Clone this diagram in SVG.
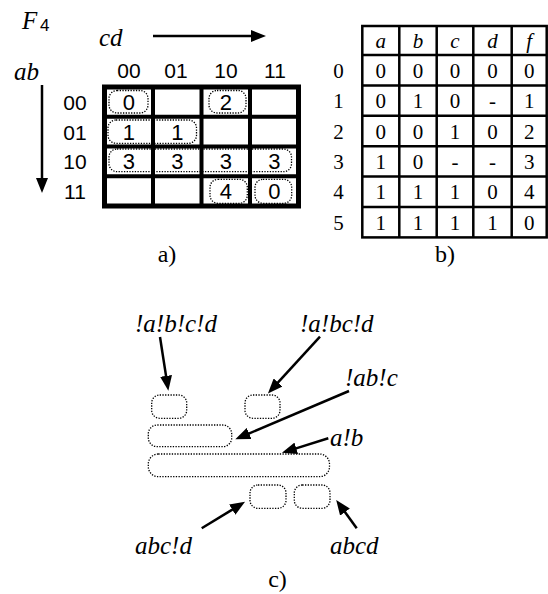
<svg xmlns="http://www.w3.org/2000/svg" width="548" height="594" viewBox="0 0 548 594">
<style>
.it{font-family:"Liberation Serif","Times New Roman",serif;font-style:italic;font-size:25px;fill:#000}
.rm{font-family:"Liberation Serif","Times New Roman",serif;font-size:21px;fill:#000;text-anchor:middle}
.cap{font-family:"Liberation Serif","Times New Roman",serif;font-size:24px;fill:#000;text-anchor:middle}
.km{font-family:"Liberation Sans",Arial,sans-serif;font-size:22px;fill:#000;text-anchor:middle}
.hd{font-family:"Liberation Sans",Arial,sans-serif;font-size:21px;fill:#000;text-anchor:middle}
.dot{fill:none;stroke:#000;stroke-width:1.3;stroke-dasharray:1.3 1.4}
.grid{stroke:#000;stroke-width:4;fill:none}
.tl{stroke:#000;stroke-width:2.5;fill:none}
.arr{stroke:#000;stroke-width:2.5;fill:none;marker-end:url(#ah)}
</style>
<defs>
<marker id="ah" viewBox="0 0 15 12" refX="1" refY="6" markerWidth="15" markerHeight="12" markerUnits="userSpaceOnUse" orient="auto">
<path d="M0,0 L15,6 L0,12 Z" fill="#000"/>
</marker>
</defs>
<rect width="548" height="594" fill="#fff"/>

<g id="kmap">
<text class="it" x="22" y="29">F</text><text x="40" y="31" style="font-family:'Liberation Sans',Arial,sans-serif;font-size:17px">4</text>
<text class="it" x="99" y="45.5">cd</text>
<text class="it" x="14" y="80">ab</text>
<text class="hd" x="129" y="78">00</text>
<text class="hd" x="176" y="78">01</text>
<text class="hd" x="226" y="78">10</text>
<text class="hd" x="275" y="78">11</text>
<text class="hd" x="75" y="110">00</text>
<text class="hd" x="75" y="139.5">01</text>
<text class="hd" x="75" y="169">10</text>
<text class="hd" x="75" y="199">11</text>
<g id="loops">
<rect class="dot" x="109" y="90.5" width="39" height="22.5" rx="8"/>
<rect class="dot" x="209" y="90.5" width="37" height="22.5" rx="8"/>
<rect class="dot" x="108" y="120" width="88.5" height="23.3" rx="8"/>
<rect class="dot" x="109" y="149" width="182.5" height="22.7" rx="8"/>
<rect class="dot" x="210" y="179.3" width="37.3" height="24" rx="8"/>
<rect class="dot" x="255" y="179.3" width="36.7" height="24" rx="8"/>
</g>
<g id="cells">
<text class="km" x="128.75" y="110">0</text>
<text class="km" x="225.75" y="110">2</text>
<text class="km" x="128.75" y="139.6">1</text>
<text class="km" x="177.25" y="139.6">1</text>
<text class="km" x="128.75" y="169.4">3</text>
<text class="km" x="177.25" y="169.4">3</text>
<text class="km" x="225.75" y="169.4">3</text>
<text class="km" x="274.25" y="169.4">3</text>
<text class="km" x="225.75" y="199.1">4</text>
<text class="km" x="274.25" y="199.1">0</text>
</g>
<path class="grid" d="M153,87 V206 M201.5,87 V206 M250,87 V206 M104.5,116.75 H298.5 M104.5,146.5 H298.5 M104.5,176.25 H298.5"/>
<rect x="104.5" y="87" width="194" height="119" fill="none" stroke="#000" stroke-width="5"/>
<text class="cap" x="167" y="262">a)</text>
</g>

<g id="table">
<rect class="tl" x="362.3" y="26" width="184.4" height="211.4"/>
<path class="tl" d="M399.3,26 V237.4 M436.7,26 V237.4 M473.3,26 V237.4 M511.7,26 V237.4 M362.3,55 H546.7 M362.3,85.4 H546.7 M362.3,115.8 H546.7 M362.3,146.2 H546.7 M362.3,176.6 H546.7 M362.3,207 H546.7"/>
<g class="rm" style="font-style:italic">
<text x="380.8" y="48">a</text><text x="418" y="48">b</text><text x="455" y="48">c</text><text x="492.5" y="48">d</text><text x="529.2" y="48">f</text>
</g>
<g class="rm">
<text x="338.5" y="77.7">0</text><text x="380.8" y="77.7">0</text><text x="418" y="77.7">0</text><text x="455" y="77.7">0</text><text x="492.5" y="77.7">0</text><text x="529.2" y="77.7">0</text>
<text x="338.5" y="108.1">1</text><text x="380.8" y="108.1">0</text><text x="418" y="108.1">1</text><text x="455" y="108.1">0</text><text x="492.5" y="108.1">-</text><text x="529.2" y="108.1">1</text>
<text x="338.5" y="138.5">2</text><text x="380.8" y="138.5">0</text><text x="418" y="138.5">0</text><text x="455" y="138.5">1</text><text x="492.5" y="138.5">0</text><text x="529.2" y="138.5">2</text>
<text x="338.5" y="168.9">3</text><text x="380.8" y="168.9">1</text><text x="418" y="168.9">0</text><text x="455" y="168.9">-</text><text x="492.5" y="168.9">-</text><text x="529.2" y="168.9">3</text>
<text x="338.5" y="199.3">4</text><text x="380.8" y="199.3">1</text><text x="418" y="199.3">1</text><text x="455" y="199.3">1</text><text x="492.5" y="199.3">0</text><text x="529.2" y="199.3">4</text>
<text x="338.5" y="229.7">5</text><text x="380.8" y="229.7">1</text><text x="418" y="229.7">1</text><text x="455" y="229.7">1</text><text x="492.5" y="229.7">1</text><text x="529.2" y="229.7">0</text>
</g>
<text class="cap" x="445" y="262">b)</text>
</g>

<g id="cover">
<rect id="t-a_b_c_d" class="dot" x="151.7" y="395" width="35" height="23.3" rx="8"/>
<rect id="t-a_bc_d" class="dot" x="245" y="395" width="35" height="23.3" rx="8"/>
<rect id="t-ab_c" class="dot" x="148.3" y="425" width="83.4" height="21.7" rx="9"/>
<rect id="t-a_b" class="dot" x="148.3" y="454" width="181.2" height="22.7" rx="10"/>
<rect id="t-abc_d" class="dot" x="250" y="485" width="36" height="23.3" rx="8"/>
<rect id="t-abcd" class="dot" x="294.3" y="485" width="35.7" height="23.3" rx="8"/>
<text class="it" x="135" y="332">!a!b!c!d</text>
<text class="it" x="300" y="332">!a!bc!d</text>
<text class="it" x="345" y="386">!ab!c</text>
<text class="it" x="330" y="446">a!b</text>
<text class="it" x="135" y="554">abc!d</text>
<text class="it" x="330" y="554">abcd</text>
<text class="cap" x="277.5" y="587">c)</text>
</g>

<g id="connectors">
<path class="arr" d="M153,36 H252"/>
<path class="arr" d="M42,85 V179"/>
<path class="arr" d="M160,337 L166.2,376.9"/>
<path class="arr" d="M320,336.7 L277.4,383.2"/>
<path class="arr" d="M349,391 L248.2,433.8"/>
<path class="arr" d="M328.3,438.3 L295.3,448.6"/>
<path class="arr" d="M201.7,528.3 L233.1,509.1"/>
<path class="arr" d="M356.7,528.3 L344.4,511.3"/>
</g>
</svg>
